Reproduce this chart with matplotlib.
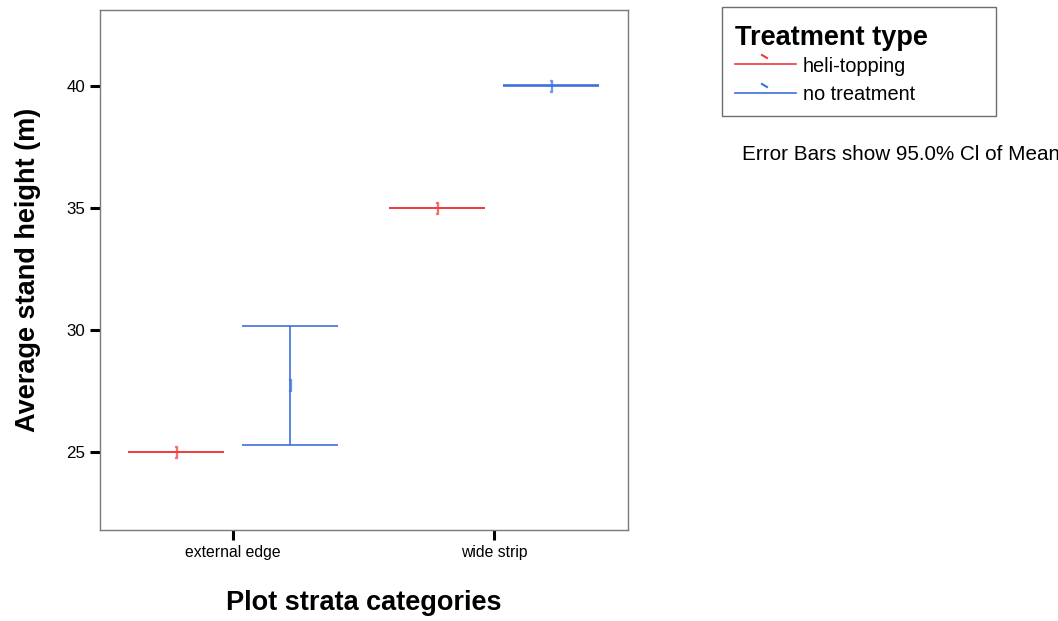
import numpy as np
import matplotlib
matplotlib.use("Agg")
import matplotlib.pyplot as plt
from matplotlib.lines import Line2D
from matplotlib.patches import Rectangle

plt.rcParams['font.family'] = ['Liberation Sans', 'DejaVu Sans']

# group means and 95% CI per stratum and treatment
categories = ['external edge', 'wide strip']
treatments = ['heli-topping', 'no treatment']
colors = ['#f03a3a', '#3d6fdc']
means = {'heli-topping': [25.0, 35.0], 'no treatment': [27.72, 40.0]}
ci_low = {'heli-topping': [24.99, 34.99], 'no treatment': [25.29, 39.99]}
ci_high = {'heli-topping': [25.01, 35.01], 'no treatment': [30.16, 40.01]}
yticks = [25, 30, 35, 40]

W, H = 1058, 621
fig = plt.figure(figsize=(W / 100, H / 100), dpi=100)
ax = fig.add_axes([100/W, 91/H, 528/W, 520/H])


def fx(px):
    return px / W


def fy(py):
    return 1 - py / H


x = np.arange(len(categories))
offs = [-0.218, 0.218]
half = 0.184
for t, col, o in zip(treatments, colors, offs):
    xs = x + o
    lo = np.array(ci_low[t])
    hi = np.array(ci_high[t])
    ax.vlines(xs, lo, hi, color=col, lw=1.2)
    ax.hlines(lo, xs - half, xs + half, color=col, lw=1.2)
    ax.hlines(hi, xs - half, xs + half, color=col, lw=1.2)
    ax.plot(xs, means[t], ls='none', marker='$]$', ms=9, color=col, alpha=0.6)

ax.set_xlim(-0.51, 1.513)
ax.set_ylim(21.8, 43.1)
ax.set_xticks(x)
ax.set_xticklabels(categories, fontsize=11.3)
ax.set_yticks(yticks)
ax.set_yticklabels([str(v) for v in yticks], fontsize=12.2)
ax.tick_params(length=7.5, width=2.2, color='black', direction='out', pad=3)
for s in ax.spines.values():
    s.set_color('#7a7a7a')
    s.set_linewidth(1)

ax.set_xlabel('Plot strata categories', fontsize=19.5, fontweight='bold', labelpad=22)
ax.set_ylabel('Average stand height (m)', fontsize=19.5, fontweight='bold', labelpad=18.5)

# legend box drawn by hand in figure coordinates
fig.add_artist(Rectangle((fx(722), fy(116)), fx(996) - fx(722), fy(7) - fy(116),
                         transform=fig.transFigure, fill=False,
                         edgecolor='#6e6e6e', lw=1))
fig.text(fx(735), fy(45), 'Treatment type', fontsize=19.5, fontweight='bold',
         ha='left', va='baseline')
for i, (t, col) in enumerate(zip(treatments, colors)):
    ly = 64 + 29 * i
    fig.add_artist(Line2D([fx(735), fx(796)], [fy(ly), fy(ly)],
                          transform=fig.transFigure, color=col, lw=1.2))
    fig.add_artist(Line2D([fx(762), fx(767)], [fy(ly - 9), fy(ly - 6)],
                          transform=fig.transFigure, color=col, lw=1.5))
    fig.text(fx(803), fy(ly + 2), t, fontsize=14.4, ha='left', va='center')

fig.text(fx(742), fy(155), 'Error Bars show 95.0% Cl of Mean',
         fontsize=14.9, va='center', ha='left')

fig.savefig('out.png', dpi=100)
